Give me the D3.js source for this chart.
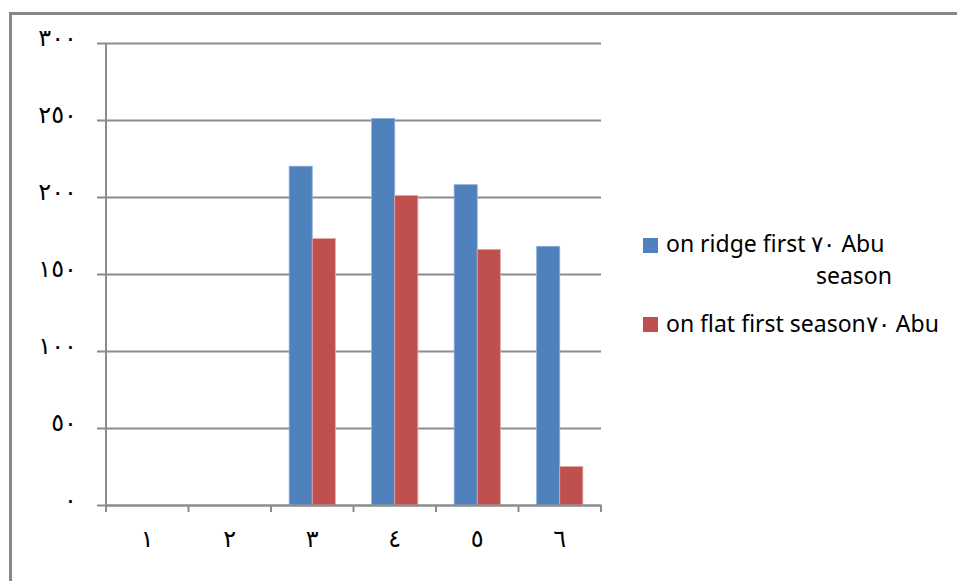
<!DOCTYPE html>
<html>
<head>
<meta charset="utf-8">
<script src="https://cdn.jsdelivr.net/npm/d3@7/dist/d3.min.js"></script>
<style>
  html, body { margin: 0; padding: 0; background: #fff; }
  svg { display: block; }
</style>
</head>
<body>
<svg id="chart" width="957" height="581"></svg>
<script>
// Category labels (Arabic-Indic digits) and y-axis tick values
const categories = ["١", "٢", "٣", "٤", "٥", "٦"];
const yTicks = [0, 50, 100, 150, 200, 250, 300];
const yTickLabels = ["٠", "٥٠", "١٠٠", "١٥٠", "٢٠٠", "٢٥٠", "٣٠٠"];

// Series values per category
const ridgeValues = [0, 0, 220, 251, 208, 168];
const flatValues = [0, 0, 173, 201, 166, 25];

const seriesNames = ["on ridge first ٧٠ Abu season", "on flat first season٧٠ Abu"];
const seriesColors = ["#4f81bd", "#c0504d"];

const svg = d3.select("#chart");
const W = 957, H = 581;

// Outer chart frame
svg.append("rect")
  .attr("x", 10.5).attr("y", 13.5)
  .attr("width", W + 20).attr("height", H + 20)
  .attr("fill", "#fff")
  .attr("stroke", "#878787").attr("stroke-width", 3);

const plot = { left: 106, right: 601, top: 43, bottom: 505 };

const x = d3.scaleBand()
  .domain(categories)
  .range([plot.left, plot.right])
  .paddingInner(0).paddingOuter(0);

const groupWidth = x.bandwidth() * 0.56;
const groupInner = d3.scaleBand()
  .domain([0, 1])
  .range([0, groupWidth])
  .padding(0);

const y = d3.scaleLinear().domain([0, 300]).range([plot.bottom, plot.top]);

const digitFont = "'DejaVu Sans', sans-serif";

// Horizontal gridlines with outward tick stubs
const yAxis = d3.axisLeft(y)
  .tickValues(yTicks)
  .tickSize(-(plot.right - plot.left) - 9)
  .tickFormat((d, i) => yTickLabels[i]);

const gy = svg.append("g")
  .attr("transform", `translate(${plot.left - 9},0)`)
  .call(yAxis);
gy.select(".domain").remove();
gy.selectAll(".tick line")
  .attr("stroke", "#8c8c8c").attr("stroke-width", 2);
gy.selectAll(".tick text")
  .attr("x", -20)
  .attr("dy", "0.1em")
  .attr("font-family", digitFont)
  .attr("font-size", 24)
  .attr("letter-spacing", 1)
  .attr("fill", "#000");

// Vertical axis line
svg.append("line")
  .attr("x1", plot.left).attr("x2", plot.left)
  .attr("y1", plot.top).attr("y2", plot.bottom + 7)
  .attr("stroke", "#8c8c8c").attr("stroke-width", 2);

// Bars
const data = categories.map((c, i) => ({ cat: c, vals: [ridgeValues[i], flatValues[i]] }));

const groups = svg.append("g").selectAll("g")
  .data(data)
  .join("g")
  .attr("transform", d => `translate(${x(d.cat) + (x.bandwidth() - groupWidth) / 2},0)`);

groups.selectAll("rect")
  .data(d => d.vals.map((v, k) => ({ v, k })))
  .join("rect")
  .attr("x", d => groupInner(d.k))
  .attr("width", groupInner.bandwidth())
  .attr("y", d => y(d.v))
  .attr("height", d => y(0) - y(d.v))
  .attr("fill", d => seriesColors[d.k])
  .attr("stroke", d => d.k === 0 ? "#8eb0da" : "#e0a9a7")
  .attr("stroke-width", d => d.v > 0 ? 0.8 : 0);

// Category axis along the bottom
const xAxis = d3.axisBottom(x).tickSize(0).tickPadding(25);
const gx = svg.append("g")
  .attr("transform", `translate(0,${plot.bottom})`)
  .call(xAxis);
gx.select(".domain").attr("stroke", "#8c8c8c").attr("stroke-width", 2);
gx.selectAll(".tick text")
  .attr("font-family", digitFont)
  .attr("font-size", 24)
  .attr("fill", "#000");

// Category boundary tick marks
const boundaries = categories.map(c => x(c)).concat([x(categories[categories.length - 1]) + x.bandwidth()]);
gx.selectAll("line.bound")
  .data(boundaries)
  .join("line")
  .attr("class", "bound")
  .attr("x1", d => d).attr("x2", d => d)
  .attr("y1", 0).attr("y2", 7)
  .attr("stroke", "#8c8c8c").attr("stroke-width", 2);

// Legend
const legendFont = "'Noto Sans', sans-serif";
const legendSize = 23;
const lg = svg.append("g");
lg.append("rect").attr("x", 643).attr("y", 238).attr("width", 15).attr("height", 15).attr("fill", seriesColors[0]);
lg.append("text")
  .attr("x", 666).attr("y", 252)
  .attr("font-family", legendFont).attr("font-size", legendSize).attr("fill", "#000")
  .text("on ridge first ٧٠ Abu");
lg.append("text")
  .attr("x", 892).attr("y", 284).attr("text-anchor", "end")
  .attr("font-family", legendFont).attr("font-size", legendSize).attr("fill", "#000")
  .text("season");

lg.append("rect").attr("x", 643).attr("y", 317).attr("width", 15).attr("height", 15).attr("fill", seriesColors[1]);
lg.append("text")
  .attr("x", 666).attr("y", 332)
  .attr("font-family", legendFont).attr("font-size", legendSize).attr("fill", "#000")
  .text(seriesNames[1]);
</script>
</body>
</html>
